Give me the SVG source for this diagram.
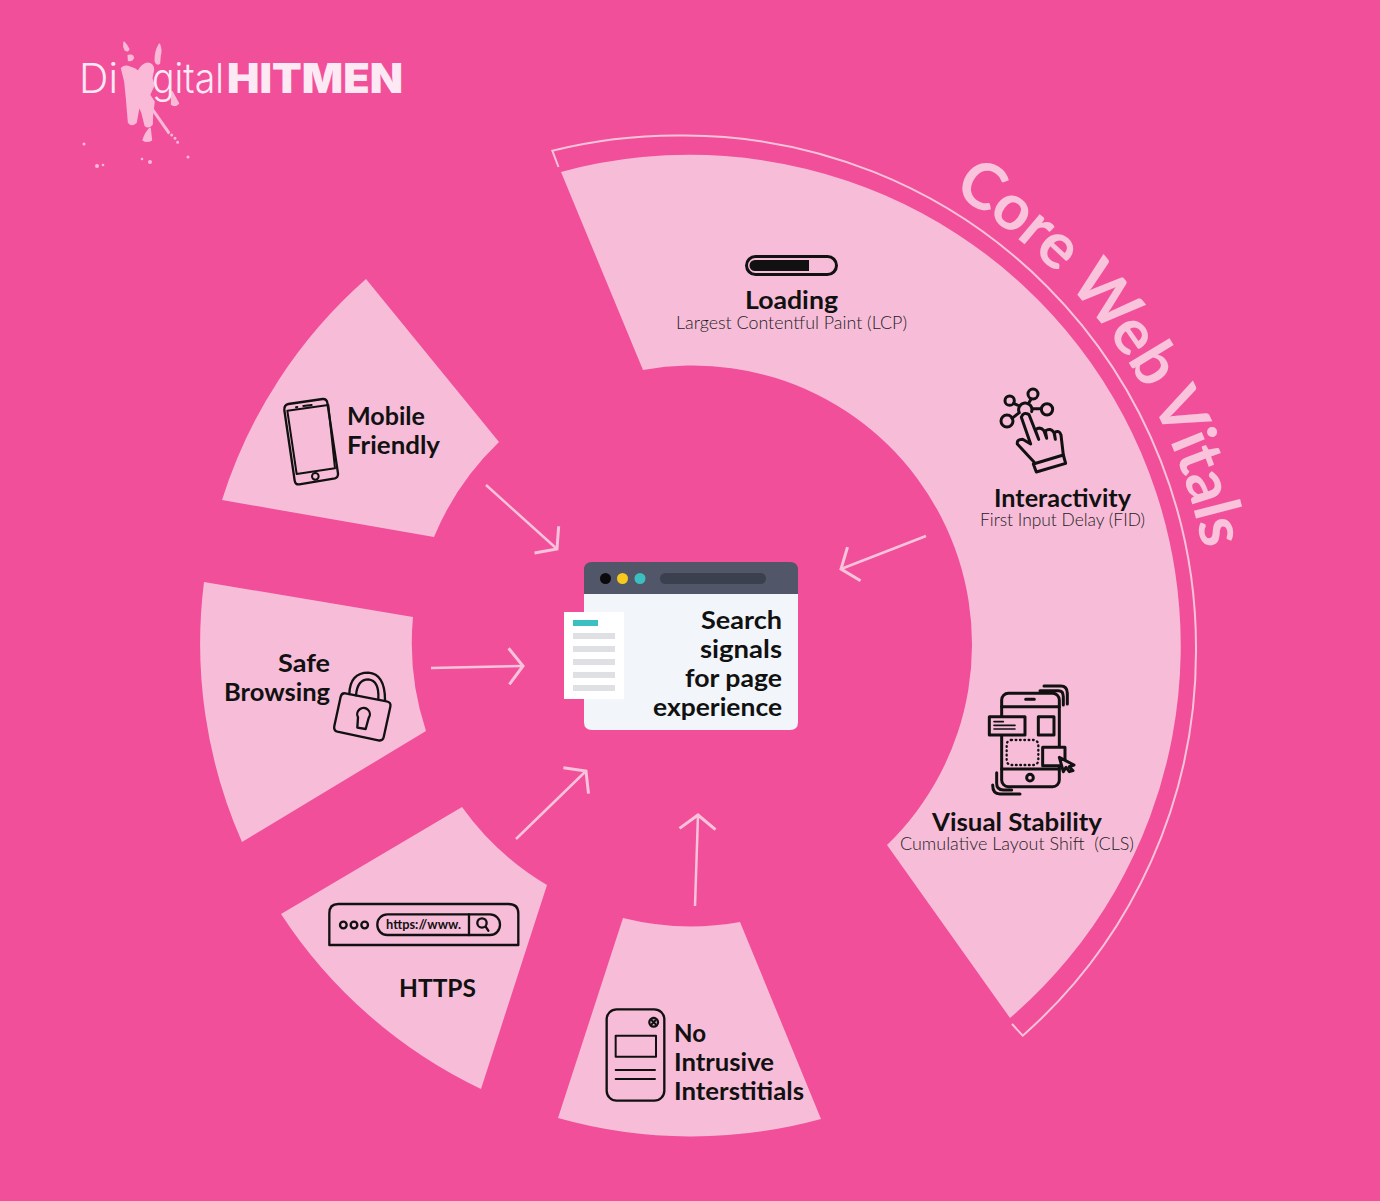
<svg xmlns="http://www.w3.org/2000/svg" width="1380" height="1201" viewBox="0 0 1380 1201">
<style>
.seg{fill:#f7bdd8}
.t{font-family:"Lato","Liberation Sans",sans-serif;font-weight:700;font-size:25px;fill:#111;transform:translateY(.7px)}
.s{font-family:"Lato","Liberation Sans",sans-serif;font-weight:300;font-size:17.5px;fill:#1c1c1c;white-space:pre}
.m{text-anchor:middle}.e{text-anchor:end}
.i{fill:none;stroke:#111;stroke-width:9;stroke-linejoin:round;stroke-linecap:round}
.c{fill:none;stroke:#f9c3dc;stroke-width:2.5}
.bar{fill:#dfe0e3}
.logo{font-family:"Inter","Liberation Sans",sans-serif;font-size:41px;fill:#fde9f3}
</style>
<defs>
<marker id="arrow" viewBox="-20 -22 24 44" refX="0" refY="0" markerWidth="24" markerHeight="44" markerUnits="userSpaceOnUse" orient="auto"><path d="M-14,-18 L0,0 L-14,18" fill="none" stroke="#f9c3dc" stroke-width="3"/></marker>
<path id="vitals" d="M952,193 A527,527 0 0 1 1210,601"/>
</defs>
<rect width="1380" height="1201" fill="#f14f9a"/>

<g id="logo">
<text class="logo" x="79" y="93" font-weight="300" textLength="39" lengthAdjust="spacingAndGlyphs">Di</text>
<g transform="translate(110 35) scale(.3333)" fill="#f9b9d7" stroke="#f9b9d7" stroke-width="5" stroke-linejoin="round">
<path d="M35,100 Q45,90 60,97 Q75,100 85,110 Q95,88 112,85 Q130,85 130,105 L125,130 L132,150 L118,180 L132,200 L127,240 L126,268 Q115,280 106,272 L96,232 L87,212 L78,262 Q65,275 56,262 L50,190 L45,140 Z"/>
<path d="M42,22 Q50,30 56,42 Q55,50 46,45 Q40,35 42,22Z M55,62 Q68,58 70,68 Q66,78 56,76Z M148,28 Q155,45 150,62 L148,85 Q140,90 136,78 Q135,50 148,28Z M120,280 L124,315 Q110,322 100,315 Q105,295 120,280Z M186,170 L205,205 Q195,215 185,208Z"/>
<path d="M122,212 L178,292 L175,295 L120,216Z"/>
<circle cx="185" cy="300" r="2"/><circle cx="195" cy="310" r="2"/><circle cx="203" cy="322" r="2"/>
</g>
<g fill="#f9b9d7"><circle cx="84" cy="144" r="1.500"/><circle cx="97" cy="166" r="2"/><circle cx="103" cy="165" r="1.300"/><circle cx="142" cy="159" r="1.300"/><circle cx="150" cy="162" r="2"/><circle cx="188" cy="157" r="1.500"/></g>
<text class="logo" x="152" y="93" font-weight="300" textLength="72" lengthAdjust="spacingAndGlyphs">gital</text>
<text class="logo" x="227" y="93" font-weight="900" textLength="176" lengthAdjust="spacingAndGlyphs">HITMEN</text>
</g>

<g id="core-web-vitals">
<path class="seg" d="M561,172 A491,491 0 0 1 1010,1018 L887,845 A279,279 0 0 0 643,370 Z"/>
<path fill="none" stroke="#f9c3dc" stroke-width="2" d="M558.500,167 L552.300,150.700 A512,512 0 0 1 685,135.500 A512,512 0 0 1 1196,650 A512,512 0 0 1 1022.700,1035.700 L1012,1024"/>
<text font-family="'Lato','Liberation Sans',sans-serif" font-size="64" font-weight="700" fill="#f9c3dc"><textPath href="#vitals" textLength="449">Core Web Vitals</textPath></text>
</g>

<g id="loading">
<rect x="746.500" y="256.500" width="90" height="18" rx="9" fill="none" stroke="#111" stroke-width="3"/>
<path d="M755,260 H809 V271 H755 A5.500,5.500 0 0 1 755,260Z" fill="#111"/>
<text class="t m" x="791.500" y="308" textLength="93" lengthAdjust="spacingAndGlyphs">Loading</text>
<text class="s m" x="791.500" y="329" textLength="231" lengthAdjust="spacingAndGlyphs">Largest Contentful Paint (LCP)</text>
</g>

<g id="interactivity">
<g transform="translate(960 370) scale(.3333)">
<circle class="i" cx="149" cy="92" r="14"/><circle class="i" cx="219" cy="72" r="15"/><circle class="i" cx="261" cy="118" r="17"/><circle class="i" cx="141" cy="153" r="18"/>
<path class="i" d="M161,100 L178,108 M213,87 L205,102 M244,116 H215 M156,145 L175,130 M178,128 A20,20 0 1 1 215,125"/>
<path class="i" d="M222,276 L172,222 Q170,208 188,208 L212,222 L184,142 Q190,124 207,134 L236,208 L226,180 Q240,168 252,182 L260,205 L256,182 Q272,172 282,188 L286,208 L283,188 Q298,178 303,195 L310,255"/>
<path class="i" d="M220,282 L310,255 L317,280 L229,306 Z"/>
</g>
<text class="t m" x="1062.500" y="506" textLength="137" lengthAdjust="spacingAndGlyphs">Interactivity</text>
<text class="s m" x="1062.500" y="526" textLength="165" lengthAdjust="spacingAndGlyphs">First Input Delay (FID)</text>
</g>

<g id="visual-stability">
<g transform="translate(970 670) scale(.3333)">
<rect class="i" x="95" y="70" width="173" height="280" rx="20"/>
<path class="i" d="M95,110 H268 M95,297 H268 M167,88 H193 M210,62 H265 Q280,62 280,80 V105 M222,48 H272 Q292,48 292,70 V102 M80,308 V340 Q80,360 100,360 H125 M68,345 Q68,372 90,372 H150"/>
<circle class="i" cx="180" cy="323" r="10"/>
<rect class="i" x="58" y="140" width="107" height="55" style="fill:#f7bdd8"/>
<path class="i" style="stroke-width:5" d="M72,155 H100 M72,166 H135 M72,177 H135"/>
<rect class="i" x="205" y="140" width="47" height="55"/>
<rect class="i" x="110" y="210" width="95" height="75" rx="14" style="stroke-dasharray:2 11;stroke-width:7"/>
<rect class="i" x="218" y="232" width="67" height="55" style="fill:#f7bdd8"/>
<path class="i" d="M268,262 L312,285 L298,290 L309,302 L298,305 L288,292 L280,305 Z" style="fill:#f7bdd8"/>
</g>
<text class="t m" x="1017" y="830" textLength="170" lengthAdjust="spacingAndGlyphs">Visual Stability</text>
<text class="s m" x="1017" y="850" textLength="234" lengthAdjust="spacingAndGlyphs" xml:space="preserve">Cumulative Layout Shift  (CLS)</text>
</g>

<g id="mobile-friendly">
<path class="seg" d="M366,279 A491,491 0 0 0 222,500 L434,537 A279,279 0 0 1 499,442 Z"/>
<g transform="translate(270 390) scale(.3333)">
<path class="i" d="M55,42 L158,27 Q170,26 172,38 L204,250 Q205,262 195,265 L88,283 Q76,285 74,272 L43,60 Q42,45 55,42Z" style="stroke-width:7"/>
<path class="i" d="M52,62 L175,45 M80,252 L195,235 M52,62 L80,252 M175,45 L195,235 M78,52 L82,51 M100,48 L125,45" style="stroke-width:6"/>
<circle class="i" cx="136" cy="259" r="10" style="stroke-width:6"/>
</g>
<text class="t" x="347" y="424" textLength="78" lengthAdjust="spacingAndGlyphs">Mobile</text>
<text class="t" x="347" y="453" textLength="93" lengthAdjust="spacingAndGlyphs">Friendly</text>
</g>

<g id="safe-browsing">
<path class="seg" d="M204,582 A491,491 0 0 0 242,842 L426,731 A279,279 0 0 1 413,617 Z"/>
<g transform="translate(320 660) scale(.3333)">
<path class="i" d="M76,100 L200,124 Q214,127 211,140 L191,232 Q188,244 175,241 L52,215 Q40,212 43,198 L62,110 Q65,98 76,100Z" style="stroke-width:7"/>
<path class="i" d="M88,102 Q90,38 145,38 Q195,42 195,120 M108,106 Q112,58 145,58 Q178,62 175,116" style="stroke-width:7"/>
<path class="i" d="M114,172 A19,19 0 1 1 146,174 L137,207 L112,203 Z" style="stroke-width:7"/>
</g>
<text class="t e" x="330" y="671" textLength="52" lengthAdjust="spacingAndGlyphs">Safe</text>
<text class="t e" x="330" y="700" textLength="106" lengthAdjust="spacingAndGlyphs">Browsing</text>
</g>

<g id="https">
<path class="seg" d="M281,914 A491,491 0 0 0 481,1089 L547,885 A279,279 0 0 1 462,807 Z"/>
<g transform="translate(320 890) scale(.3333)">
<path class="i" d="M28,165 V70 Q28,42 55,42 H565 Q595,42 595,70 V165 Z" style="stroke-width:7"/>
<circle class="i" cx="70" cy="105" r="10" style="stroke-width:7"/><circle class="i" cx="102" cy="105" r="10" style="stroke-width:7"/><circle class="i" cx="134" cy="105" r="10" style="stroke-width:7"/>
<rect class="i" x="172" y="73" width="368" height="62" rx="30" style="stroke-width:7"/>
<path class="i" d="M447,73 V135 M497,110 L505,122" style="stroke-width:7"/>
<circle class="i" cx="486" cy="99" r="14" style="stroke-width:7"/>
</g>
<text font-family="'Lato','Liberation Sans',sans-serif" font-size="12.500" font-weight="700" fill="#111" x="386" y="929" textLength="75" lengthAdjust="spacingAndGlyphs">https://www.</text>
<text class="t m" x="437.500" y="996" textLength="77" lengthAdjust="spacingAndGlyphs">HTTPS</text>
</g>

<g id="no-intrusive-interstitials">
<path class="seg" d="M558,1118 A491,491 0 0 0 821,1119 L740,922 A279,279 0 0 1 623,918 Z"/>
<g transform="translate(595 1000) scale(.3333)">
<rect class="i" x="35" y="28" width="173" height="274" rx="30" style="stroke-width:7"/>
<circle class="i" cx="176" cy="67" r="13" style="stroke-width:7"/>
<path class="i" d="M170,61 L182,73 M182,61 L170,73 M62,210 H180 M62,237 H180" style="stroke-width:6"/>
<rect class="i" x="62" y="107" width="121" height="63" style="stroke-width:6"/>
</g>
<text class="t" x="674" y="1041" textLength="32" lengthAdjust="spacingAndGlyphs">No</text>
<text class="t" x="674" y="1070" textLength="100" lengthAdjust="spacingAndGlyphs">Intrusive</text>
<text class="t" x="674" y="1099" textLength="130" lengthAdjust="spacingAndGlyphs">Interstitials</text>
</g>

<g id="search-signals">
<path d="M584,594 H798 V722 Q798,730 790,730 H592 Q584,730 584,722Z" fill="#f2f5fa"/>
<path d="M584,594 V570 Q584,562 592,562 H790 Q798,562 798,570 V594Z" fill="#515668"/>
<circle cx="605.500" cy="578.500" r="5.500" fill="#0a0a0a"/><circle cx="622.500" cy="578.500" r="5.500" fill="#f8c91c"/><circle cx="640" cy="578.500" r="5.500" fill="#3bbfc0"/>
<rect x="660" y="573" width="106" height="11" rx="5.500" fill="#3b404f"/>
<rect x="564" y="612" width="60" height="87" fill="#fff"/>
<rect x="573" y="620" width="25" height="6" fill="#3bbfc0"/>
<rect class="bar" x="573" y="633" width="42" height="6"/><rect class="bar" x="573" y="646" width="42" height="6"/><rect class="bar" x="573" y="659" width="42" height="6"/><rect class="bar" x="573" y="672" width="42" height="6"/><rect class="bar" x="573" y="685" width="42" height="6"/>
<text class="t e" x="782" y="628" textLength="81" lengthAdjust="spacingAndGlyphs">Search</text>
<text class="t e" x="782" y="657" textLength="82" lengthAdjust="spacingAndGlyphs">signals</text>
<text class="t e" x="782" y="686" textLength="97" lengthAdjust="spacingAndGlyphs">for page</text>
<text class="t e" x="782" y="715" textLength="129" lengthAdjust="spacingAndGlyphs">experience</text>
</g>

<g id="connectors">
<path class="c" marker-end="url(#arrow)" d="M486,485 L557,549"/>
<path class="c" marker-end="url(#arrow)" d="M926,536 L841,569"/>
<path class="c" marker-end="url(#arrow)" d="M431,668 L523,666"/>
<path class="c" marker-end="url(#arrow)" d="M516,839 L586,771"/>
<path class="c" marker-end="url(#arrow)" d="M695,906 L698,815"/>
</g>
</svg>
